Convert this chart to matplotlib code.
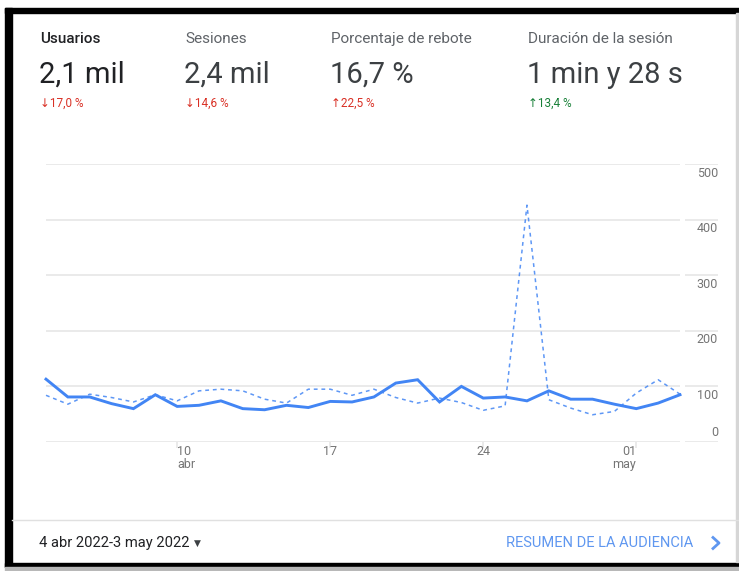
import matplotlib
matplotlib.use("Agg")
import matplotlib.pyplot as plt
from matplotlib.patches import Rectangle
from matplotlib.lines import Line2D
import matplotlib.transforms as mtransforms

plt.rcParams['font.family'] = ['Roboto', 'DejaVu Sans']

# ---------------- data ----------------
days = list(range(30))  # 4 abr 2022 .. 3 may 2022
usuarios = [113, 81, 81, 69, 60, 85, 64, 66, 74, 60,
            58, 66, 62, 73, 72, 81, 106, 112, 72, 100,
            79, 81, 74, 92, 77, 77, 68, 60, 70, 85]
periodo_anterior = [84, 68, 86, 80, 72, 85, 74, 92, 95, 92,
                    77, 70, 95, 95, 84, 95, 80, 70, 79, 71,
                    57, 65, 426, 76, 61, 49, 55, 88, 112, 86]
y_ticks = [0, 100, 200, 300, 400, 500]
x_tick_pos = [6, 13, 20, 27]
x_tick_labels = ["10\nabr", "17", "24", "01\nmay"]
x_tick_ha = ["left", "center", "center", "right"]

metric_titles = ["Usuarios", "Sesiones", "Porcentaje de rebote", "Duración de la sesión"]
metric_values = ["2,1 mil", "2,4 mil", "16,7 %", "1 min y 28 s"]
metric_deltas = ["↓17,0 %", "↓14,6 %", "↑22,5 %", "↑13,4 %"]
delta_colors = ["#d93025", "#d93025", "#d93025", "#188038"]
metric_x = [40, 185, 331, 528]

date_range = "4 abr 2022-3 may 2022"
link_text = "RESUMEN DE LA AUDIENCIA"

# ---------------- figure ----------------
W, H = 739, 571
fig = plt.figure(figsize=(W / 100, H / 100), dpi=100)
fig.patch.set_facecolor("white")

def fx(x):
    return x / W

def fy(y):
    return 1 - y / H

# frame
frame_col = "black"
fig.patches.append(Rectangle((fx(5), fy(567)), fx(7), (567 - 8) / H,
                             transform=fig.transFigure, color=frame_col, zorder=0))
fig.patches.append(Rectangle((fx(5), fy(13)), 1, 5 / H,
                             transform=fig.transFigure, color=frame_col, zorder=0))
fig.patches.append(Rectangle((fx(5), fy(567)), 1, 4.5 / H,
                             transform=fig.transFigure, color=frame_col, zorder=0))
fig.patches.append(Rectangle((fx(5), 0), 1, 4 / H,
                             transform=fig.transFigure, color="#b8b8b8", zorder=0))
fig.patches.append(Rectangle((fx(736), fy(562)), 1, (562 - 13) / H,
                             transform=fig.transFigure, color="#d6d6d6", zorder=0))

# header metrics
for i, x in enumerate(metric_x):
    sel = (i == 0)
    fig.text(fx(x), fy(39), metric_titles[i], fontsize=11,
             color="#202124" if sel else "#5f6368",
             weight="medium" if sel else "normal", ha="left", va="center")
    fig.text(fx(x - 1), fy(75), metric_values[i], fontsize=21,
             color="#202124" if sel else "#3c4043",
             weight="normal", ha="left", va="center")
    fig.text(fx(x), fy(103), metric_deltas[i], fontsize=8.5,
             color=delta_colors[i], ha="left", va="center")

# ---------------- chart ----------------
px_left, px_right, px_top, px_bottom = 46, 718, 164, 442
last_px = 680
xmax = (len(days) - 1) * (px_right - px_left) / (last_px - px_left)

ax = fig.add_axes([fx(px_left), fy(px_bottom), fx(px_right - px_left),
                   (px_bottom - px_top) / H])
ax.set_xlim(0, xmax)
ax.set_ylim(0, 500)
ax.axis("off")

grid_col = "#e6e6e6"
gap = 5 * xmax / (px_right - px_left)
ax.hlines(y_ticks, 0, days[-1], color=grid_col, lw=1.2, zorder=1)
ax.hlines(y_ticks, days[-1] + gap, xmax, color=grid_col, lw=1.2, zorder=1)

# tick marks below baseline
ax.vlines(x_tick_pos, -11, 0, color=grid_col, lw=1.2, clip_on=False, zorder=1)

ax.plot(days, periodo_anterior, color="#4285f4", lw=1.1, ls=(0, (2.5, 2.5)),
        alpha=0.85, clip_on=False, zorder=3)
ax.plot(days, usuarios, color="#4285f4", lw=2.1, clip_on=False, zorder=4,
        solid_joinstyle="miter")

# y labels
ytrans = mtransforms.blended_transform_factory(ax.transAxes, ax.transData)
for v in y_ticks:
    off = 6.8 if v == 0 else -6.5
    ax.annotate(str(v), xy=(1.0, v), xycoords=ytrans, xytext=(0, off),
                textcoords="offset points", ha="right", va="center",
                fontsize=9, color="#757575", annotation_clip=False)

# x labels
for pos, lab, ha in zip(x_tick_pos, x_tick_labels, x_tick_ha):
    ax.annotate(lab, xy=(pos, 0), xycoords="data", xytext=(0, -2.5),
                textcoords="offset points", ha=ha, va="top",
                fontsize=9, color="#757575", linespacing=0.95,
                annotation_clip=False)

# ---------------- footer ----------------
fig.lines.append(Line2D([fx(12), 1], [fy(520), fy(520)], transform=fig.transFigure,
                        color="#e0e0e0", lw=1))
fig.text(fx(39), fy(543), date_range, fontsize=10.6, color="#202124",
         ha="left", va="center")
fig.text(fx(194), fy(543), "▼", fontsize=6.5, color="#3c4043", ha="left",
         va="center", family="DejaVu Sans")
fig.text(fx(693), fy(543), link_text, fontsize=10.5, color="#5f97f0",
         ha="right", va="center")
fig.lines.append(Line2D([fx(713), fx(719), fx(713)], [fy(537.5), fy(543), fy(548.5)],
                        transform=fig.transFigure, color="#5f97f0", lw=2))

fig.savefig("out.png", dpi=100, facecolor="white")
